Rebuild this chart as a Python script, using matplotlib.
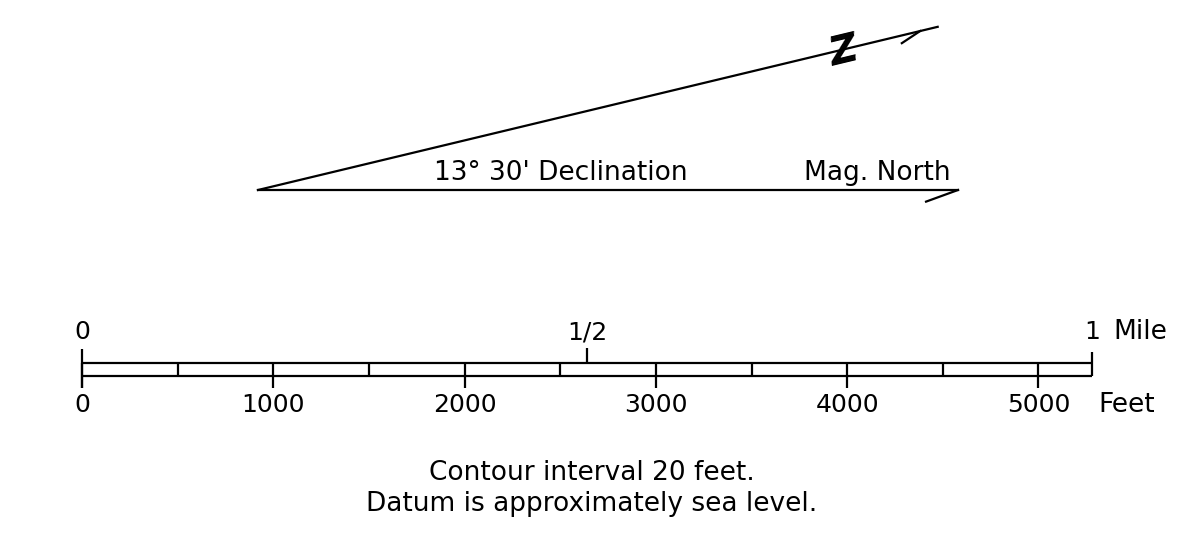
import numpy as np
import matplotlib
matplotlib.use("Agg")
import matplotlib.pyplot as plt

# declination diagram
declination_deg = 13.5
declination_label = "13° 30' Declination"
mag_label = "Mag. North"

# bar scale (feet)
mile_ft = 5280
major_ticks = [0, 1000, 2000, 3000, 4000, 5000]
major_labels = ["0", "1000", "2000", "3000", "4000", "5000"]
minor_ticks = [500, 1500, 2500, 3500, 4500]
mile_ticks = [0, 2640, 5280]
mile_labels = ["0", "1/2", "1"]

notes = ["Contour interval 20 feet.", "Datum is approximately sea level."]

W, H = 1178, 533
fig = plt.figure(figsize=(W / 100, H / 100), dpi=100)
plt.rcParams['font.family'] = ['DejaVu Sans']
FS = 19      # words
FD = 18      # digits
LW = 1.6

# pixel-space axes for the declination arrows and notes
axp = fig.add_axes([0, 0, 1, 1])
axp.set_xlim(0, W)
axp.set_ylim(H, 0)
axp.axis("off")

ox, oy = 258, 190
mn_len = 700
tn_len = 699
th = np.radians(declination_deg)

# magnetic north line
axp.plot([ox, ox + mn_len], [oy, oy], color="black", lw=LW)
hook = np.radians(200)
axp.plot([ox + mn_len, ox + mn_len + 34 * np.cos(hook)],
         [oy, oy - 34 * np.sin(hook)], color="black", lw=LW)

# true north line
tx, ty = ox + tn_len * np.cos(th), oy - tn_len * np.sin(th)
axp.plot([ox, tx], [oy, ty], color="black", lw=LW)
hx, hy = ox + (tn_len - 18) * np.cos(th), oy - (tn_len - 18) * np.sin(th)
hook = th + np.radians(200)
axp.plot([hx, hx + 22 * np.cos(hook)], [hy, hy - 22 * np.sin(hook)],
         color="black", lw=LW)
zx, zy = ox + 603 * np.cos(th), oy - 603 * np.sin(th)
axp.text(zx, zy + 3, "Z", rotation=declination_deg, fontsize=28,
         fontweight="bold", fontstyle="oblique", ha="center", va="center")

axp.text(434, 173, declination_label, fontsize=FS, ha="left", va="center")
axp.text(804, 173, mag_label, fontsize=FS, ha="left", va="center")

for i, t in enumerate(notes):
    axp.text(592, 473 + 31 * i, t, fontsize=FS, ha="center", va="center")

# bar scale axes, x in feet
x0_px, x1_px = 82, 1092
fpp = mile_ft / (x1_px - x0_px)
axs = fig.add_axes([0, 0, 1, 1])
axs.set_xlim(-x0_px * fpp, (W - x0_px) * fpp)
axs.set_ylim(H, 0)
axs.axis("off")

top, bot = 363, 376
axs.hlines([top, bot], 0, mile_ft, color="black", lw=LW)
axs.vlines(major_ticks, top, 388, color="black", lw=LW)
axs.vlines(minor_ticks, top, bot, color="black", lw=LW)
axs.vlines(0, 349, 388, color="black", lw=LW)
axs.vlines(mile_ticks[1], 348, top, color="black", lw=LW)
axs.vlines(mile_ft, 352, bot, color="black", lw=LW)

for x, lab in zip(major_ticks, major_labels):
    axs.text(x, 405, lab, fontsize=FD, ha="center", va="center")
axs.text(mile_ft + 6 * fpp, 405, "Feet", fontsize=FS, ha="left", va="center")
for x, lab in zip(mile_ticks, mile_labels):
    axs.text(x, 332, lab, fontsize=FD, ha="center", va="center")
axs.text(mile_ft + 21 * fpp, 332, "Mile", fontsize=FS, ha="left", va="center")

fig.savefig("out.png", dpi=100, facecolor="white")
